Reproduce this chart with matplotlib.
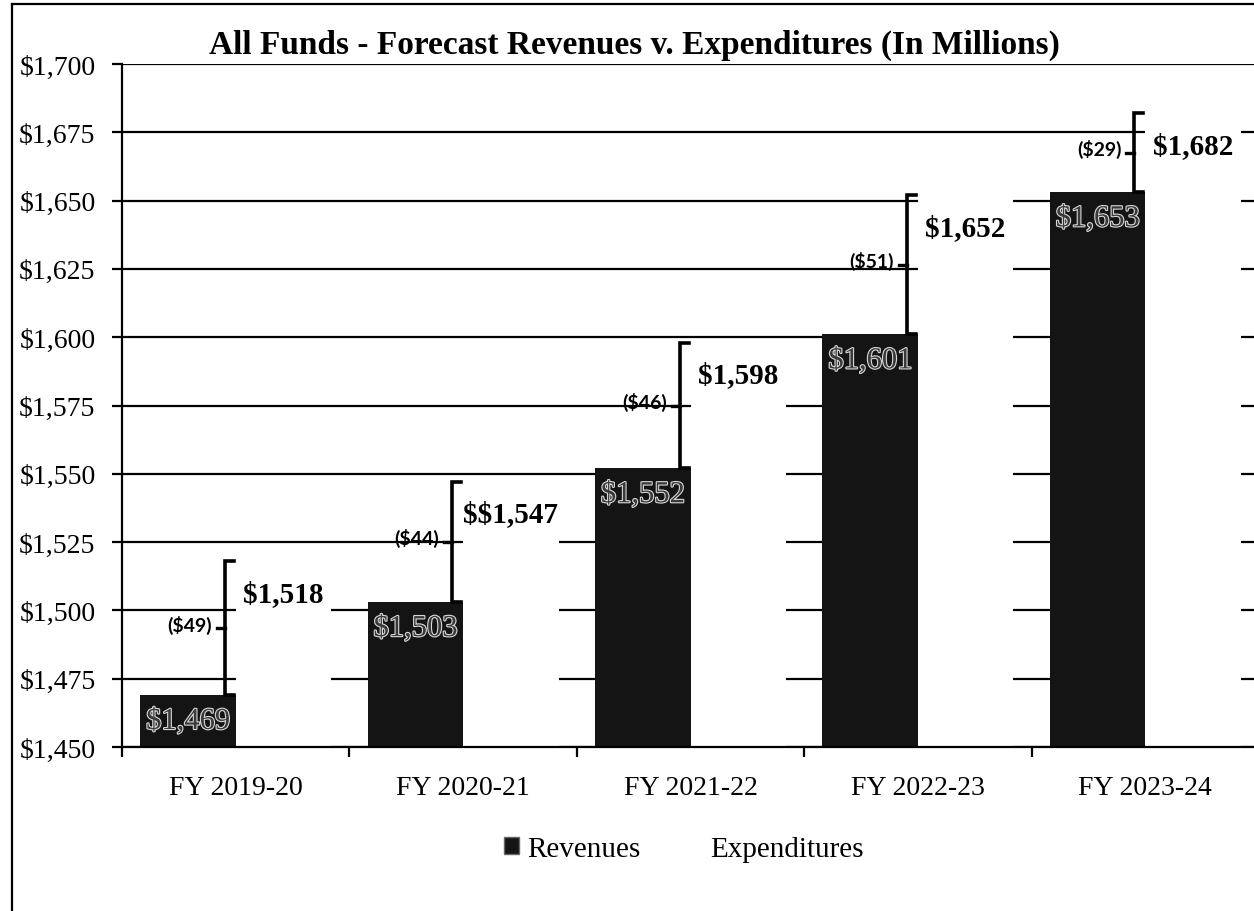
import matplotlib
matplotlib.use("Agg")
import matplotlib.pyplot as plt
import matplotlib.patheffects as pe
import numpy as np
from matplotlib.lines import Line2D
from matplotlib.patches import Patch

years = ["FY 2019-20", "FY 2020-21", "FY 2021-22", "FY 2022-23", "FY 2023-24"]
revenues = [1469, 1503, 1552, 1601, 1653]
expenditures = [1518, 1547, 1598, 1652, 1682]
rev_labels = ["$1,469", "$1,503", "$1,552", "$1,601", "$1,653"]
exp_labels = ["$1,518", "$$1,547", "$1,598", "$1,652", "$1,682"]
yticks = [1450, 1475, 1500, 1525, 1550, 1575, 1600, 1625, 1650, 1675, 1700]

SERIF = "Liberation Serif"
BAR = "#141414"


def esc(s):
    # keep dollar signs literal (no mathtext)
    return s.replace("$", r"\$")


fig = plt.figure(figsize=(12.54, 9.12), dpi=100)
ax = fig.add_axes([122 / 1254, (912 - 748) / 912, 1137 / 1254, 683 / 912])

x = np.arange(len(years))
w = 0.42
ax.bar(x - w / 2, revenues, w, color=BAR, zorder=2)
ax.bar(x + w / 2, expenditures, w, color="white", zorder=2)

ax.set_xlim(-0.5, 4.5)
ax.set_ylim(1450, 1700)
ax.set_yticks(yticks)
ax.set_yticklabels([esc(f"${v:,}") for v in yticks], fontfamily=SERIF, fontsize=20)
ax.yaxis.grid(True, color="black", linewidth=1.6)
ax.set_axisbelow(True)

ax.set_xticks(np.arange(-0.5, 5, 1))
ax.set_xticklabels([])
ax.set_xticks(x, minor=True)
ax.set_xticklabels(years, minor=True, fontfamily=SERIF, fontsize=20)
ax.tick_params(axis="x", which="minor", length=0, pad=20)
ax.tick_params(axis="x", which="major", length=7, width=1.6)
ax.tick_params(axis="y", length=7, width=1.6, pad=12)

for side in ["top", "right"]:
    ax.spines[side].set_visible(False)
for side in ["left", "bottom"]:
    ax.spines[side].set_linewidth(1.6)

# gap brackets between revenues and expenditures
px = 1 / 227.4
for i in range(len(years)):
    lo, hi = revenues[i], expenditures[i]
    xb = i - 11 * px
    serif = 9 * px
    ax.plot([xb + serif, xb, xb, xb + serif], [hi, hi, lo, lo],
            color="black", lw=2.6, zorder=4, solid_joinstyle="miter")
    mid = (lo + hi) / 2
    ax.plot([xb - 8 * px, xb], [mid, mid], color="black", lw=2.4, zorder=4)
    ax.annotate(esc(f"(${hi - lo})"), (xb - 13 * px, mid), xytext=(0, 3),
                textcoords="offset points", ha="right", va="center",
                fontfamily="Lato", fontweight="bold", fontsize=14, zorder=5)

    ax.annotate(esc(exp_labels[i]), (i + w / 2, hi), xytext=(0, -23),
                textcoords="offset points", ha="center", va="center",
                fontfamily=SERIF, fontweight="bold", fontsize=21, zorder=5)
    ax.annotate(esc(rev_labels[i]), (i - w / 2, lo), xytext=(0, -19),
                textcoords="offset points", ha="center", va="center",
                fontfamily=SERIF, fontsize=22, color="#3a3a3a", zorder=5,
                path_effects=[pe.withStroke(linewidth=1.6, foreground="#d8d8d8")])

fig.text(634 / 1254, 1 - 45 / 912,
         "All Funds - Forecast Revenues v. Expenditures (In Millions)",
         ha="center", va="center", fontfamily=SERIF, fontweight="bold", fontsize=24)

handles = [Patch(facecolor=BAR, edgecolor="#666666"),
           Patch(facecolor="white", edgecolor="white")]
fig.legend(handles, ["Revenues", "Expenditures"], loc="center",
           bbox_to_anchor=(684 / 1254, 1 - 850 / 912), ncol=2, frameon=False,
           prop={"family": SERIF, "size": 21}, handlelength=0.5, handleheight=0.5,
           handletextpad=0.3, columnspacing=1.6)

# page frame around the chart
fig.add_artist(Line2D([12 / 1254, 12 / 1254], [0, 1 - 5 / 912], color="black", lw=1.6))
fig.add_artist(Line2D([12 / 1254, 1], [1 - 5 / 912, 1 - 5 / 912], color="black", lw=1.6))

fig.savefig("out.png", dpi=100)
